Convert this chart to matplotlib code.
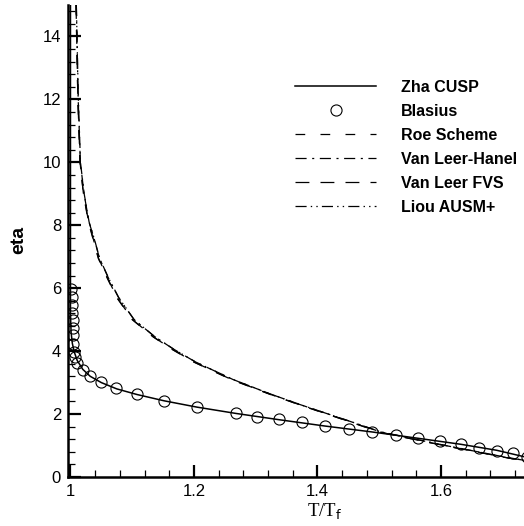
"""Boundary-layer temperature profiles: eta vs T/T_f for several flux schemes."""

import matplotlib

matplotlib.use("Agg")
import matplotlib.pyplot as plt
from matplotlib.ticker import MultipleLocator

plt.rcParams["font.family"] = ["Liberation Sans", "DejaVu Sans"]
plt.rcParams["lines.scale_dashes"] = False

# Blasius similarity solution (circles)
blasius_t = [1.0008, 1.002, 1.0024, 1.0029, 1.0036, 1.004, 1.0045, 1.0045, 1.0057,
             1.0073, 1.011, 1.0198, 1.0316, 1.050, 1.0745, 1.108, 1.152, 1.205,
             1.268, 1.3015, 1.3377, 1.3744, 1.412, 1.451, 1.4887, 1.5266, 1.5628,
             1.598, 1.632, 1.662, 1.690, 1.716, 1.739]
blasius_eta = [5.99, 5.72, 5.46, 5.20, 4.98, 4.72, 4.51, 4.24, 3.98,
               3.81, 3.61, 3.40, 3.22, 3.02, 2.82, 2.63, 2.43, 2.23,
               2.04, 1.91, 1.83, 1.74, 1.63, 1.53, 1.44, 1.34, 1.24,
               1.13, 1.04, 0.93, 0.83, 0.75, 0.63]

# Zha CUSP (solid)
cusp_t = [1.0, 1.0, 1.001, 1.003, 1.006, 1.011, 1.02, 1.032, 1.05, 1.075, 1.108,
          1.152, 1.205, 1.268, 1.338, 1.412, 1.489, 1.563, 1.632, 1.690, 1.74]
cusp_eta = [15.0, 5.2, 4.6, 4.25, 3.98, 3.7, 3.42, 3.2, 3.0, 2.8, 2.62,
            2.42, 2.22, 2.02, 1.82, 1.62, 1.43, 1.23, 1.04, 0.85, 0.62]

# Other schemes (all nearly overlapping dashed curves)
roe_t = [1.009, 1.012, 1.0154, 1.021, 1.029, 1.036, 1.045, 1.06, 1.075, 1.10,
         1.134, 1.165, 1.20, 1.26, 1.32, 1.37, 1.45, 1.50, 1.555, 1.61, 1.66, 1.71, 1.735]
roe_eta = [15.0, 12.0, 10.0, 9.0, 8.1, 7.6, 6.95, 6.3, 5.7, 5.0,
           4.45, 4.05, 3.65, 3.1, 2.65, 2.3, 1.77, 1.43, 1.2, 0.98, 0.79, 0.6, 0.52]

vlh_t = [1.0095, 1.0125, 1.016, 1.022, 1.030, 1.038, 1.047, 1.062, 1.078, 1.103,
         1.137, 1.168, 1.203, 1.263, 1.322, 1.372, 1.451, 1.501, 1.556, 1.61, 1.66, 1.71, 1.735]
vlh_eta = [15.0, 12.0, 10.0, 9.0, 8.1, 7.6, 6.95, 6.3, 5.7, 5.0,
           4.45, 4.05, 3.65, 3.1, 2.65, 2.3, 1.78, 1.44, 1.21, 0.99, 0.8, 0.61, 0.53]

vlf_t = [1.009, 1.012, 1.0155, 1.021, 1.0295, 1.0365, 1.0455, 1.0605, 1.0755, 1.1005,
         1.1345, 1.1655, 1.2005, 1.2605, 1.3205, 1.3705, 1.4505, 1.5005, 1.5555, 1.61, 1.66, 1.71, 1.735]
vlf_eta = [15.0, 12.0, 10.0, 9.0, 8.1, 7.6, 6.95, 6.3, 5.7, 5.0,
           4.45, 4.05, 3.65, 3.1, 2.65, 2.3, 1.77, 1.43, 1.2, 0.98, 0.79, 0.6, 0.52]

liou_t = [1.0095, 1.0128, 1.0162, 1.0222, 1.0302, 1.0382, 1.0472, 1.0622, 1.0782, 1.1032,
          1.1372, 1.1682, 1.2032, 1.2632, 1.3222, 1.3722, 1.4512, 1.5012, 1.5562, 1.61, 1.66, 1.71, 1.735]
liou_eta = [15.0, 12.0, 10.0, 9.0, 8.1, 7.6, 6.95, 6.3, 5.7, 5.0,
            4.45, 4.05, 3.65, 3.1, 2.65, 2.3, 1.78, 1.44, 1.21, 0.99, 0.8, 0.61, 0.53]

x_ticks = [1.0, 1.2, 1.4, 1.6]
x_tick_labels = ["1", "1.2", "1.4", "1.6"]
y_ticks = [0, 2, 4, 6, 8, 10, 12, 14]


fig = plt.figure(figsize=(5.24, 5.26), dpi=100)
ax = fig.add_axes([68 / 524, 49 / 526, 456 / 524, 472 / 526])

ax.plot(cusp_t, cusp_eta, color="black", lw=1.1, label="Zha CUSP")
ax.plot(blasius_t, blasius_eta, ls="none", marker="o", ms=8, mfc="none",
        mec="black", mew=0.8, label="Blasius")
ax.plot(roe_t, roe_eta, color="black", lw=0.9, ls=(0, (7, 11)), label="Roe Scheme")
ax.plot(vlh_t, vlh_eta, color="black", lw=0.9, ls=(0, (8, 4, 1.5, 4)),
        label="Van Leer-Hanel")
ax.plot(vlf_t, vlf_eta, color="black", lw=0.9, ls=(0, (10, 8)), label="Van Leer FVS")
ax.plot(liou_t, liou_eta, color="black", lw=0.9, ls=(0, (8, 3, 1, 3, 1, 3)),
        label="Liou AUSM+")

ax.set_xlim(0.996, 0.996 + 456 / 617.5)
ax.set_ylim(0, 15)

for side in ("top", "right"):
    ax.spines[side].set_visible(False)
for side in ("left", "bottom"):
    ax.spines[side].set_linewidth(1.8)

ax.set_xticks(x_ticks)
ax.set_xticklabels(x_tick_labels)
ax.set_yticks(y_ticks)
ax.xaxis.set_minor_locator(MultipleLocator(0.04))
ax.yaxis.set_minor_locator(MultipleLocator(0.4))
ax.tick_params(which="major", direction="in", length=9, width=1.6, labelsize=12, pad=5)
ax.tick_params(which="minor", direction="in", length=5, width=0.9)

ax.set_xlabel("T/T$_\\mathrm{f}$", fontsize=13.5, family="Liberation Serif")
ax.xaxis.set_label_coords(0.563, -0.053)
ax.set_ylabel("eta", fontsize=14, fontweight="bold")
ax.yaxis.set_label_coords(-0.09, 0.502)

leg = ax.legend(loc="upper left", bbox_to_anchor=((295 - 68) / 456, (477 - 80) / 472),
                frameon=False, borderpad=0, borderaxespad=0, handlelength=5.1,
                handletextpad=1.55, labelspacing=0.56, prop={"weight": "bold", "size": 11.5})

fig.savefig("out.png", dpi=100)
